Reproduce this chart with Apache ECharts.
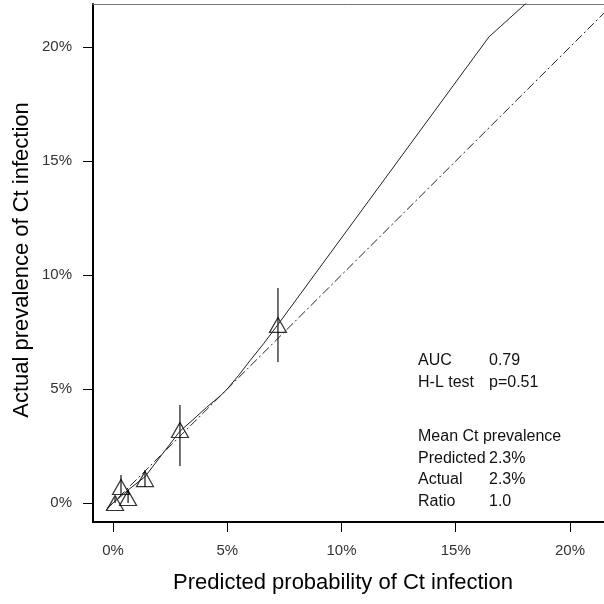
<!DOCTYPE html>
<html>
<head>
<meta charset="utf-8">
<script src="https://cdn.jsdelivr.net/npm/echarts@6/dist/echarts.min.js"></script>
<style>html,body{margin:0;padding:0;background:#fff}#c{width:604px;height:604px}</style>
</head>
<body>
<div id="c"></div>
<script>
// Data (percent units)
var tickValues = [0, 5, 10, 15, 20];
var diagonalX = [-0.3, 22.5];
var diagonalY = [-0.3, 22.5];
var curveX = [-0.25, 0.3, 0.7, 1.4, 2.2, 2.93, 3.5, 4.1, 4.7, 5.0, 5.5, 6.0, 6.6, 7.2, 16.45, 18.5];
var curveY = [-0.2, 0.25, 0.6, 1.15, 2.2, 3.15, 3.65, 4.2, 4.7, 5.0, 5.6, 6.25, 7.0, 7.8, 20.44, 22.3];
var pointX = [0.09, 0.35, 0.66, 1.4, 2.93, 7.22];
var pointY = [0.0, 0.70, 0.22, 1.05, 3.20, 7.81];
var errLow = [0.0, 0.35, 0.0, 0.70, 1.62, 6.18];
var errHigh = [0.25, 1.23, 0.6, 1.45, 4.30, 9.43];
var statLabels = ['AUC', 'H-L test', '', 'Mean Ct prevalence', 'Predicted', 'Actual', 'Ratio'];
var statValues = ['0.79', 'p=0.51', '', '', '2.3%', '2.3%', '1.0'];

var FONT = 'Liberation Sans, Arial, sans-serif';
var chart = echarts.init(document.getElementById('c'), null, {renderer: 'canvas'});

function zip(a, b) { return a.map(function (v, i) { return [v, b[i]]; }); }

var statGraphics = [];
var statY = [361, 383, 405, 437, 459, 480, 502];
statLabels.forEach(function (t, i) {
  if (t) statGraphics.push({type: 'text', x: 418, y: statY[i],
    style: {text: t, font: '16px ' + FONT, fill: '#111', verticalAlign: 'middle'}});
  if (statValues[i]) statGraphics.push({type: 'text', x: 489, y: statY[i],
    style: {text: statValues[i], font: '16px ' + FONT, fill: '#111', verticalAlign: 'middle'}});
});

var axisCommon = function (min, max) {
  return {
    type: 'value', min: min, max: max,
    axisLine: {show: true, onZero: false, lineStyle: {color: '#000', width: 2}},
    axisTick: {show: true, length: 10, lineStyle: {color: '#000', width: 1}, customValues: tickValues},
    axisLabel: {show: true, margin: 21, fontSize: 15, color: '#333', fontFamily: FONT,
      customValues: tickValues, formatter: function (v) { return v + '%'; }},
    splitLine: {show: false}
  };
};

var xMain = axisCommon(-0.875, 21.488);
var yMain = axisCommon(-0.833, 21.886);
var xTop = {type: 'value', min: -0.875, max: 21.488, position: 'top',
  axisLine: {show: true, onZero: false, lineStyle: {color: '#777', width: 1}},
  axisTick: {show: false}, axisLabel: {show: false}, splitLine: {show: false}};

var option = {
  animation: false,
  backgroundColor: '#fff',
  grid: {left: 93, right: 0, top: 4, bottom: 82, show: false},
  xAxis: [xMain, xTop],
  yAxis: [yMain],
  graphic: [
    {type: 'text', x: 343, y: 583,
      style: {text: 'Predicted probability of Ct infection', font: '22px ' + FONT, fill: '#000', align: 'center', verticalAlign: 'middle'}},
    {type: 'text', rotation: Math.PI / 2, x: 22, y: 260,
      style: {text: 'Actual prevalence of Ct infection', font: '22px ' + FONT, fill: '#000', align: 'center', verticalAlign: 'middle'}}
  ].concat(statGraphics),
  series: [
    {type: 'line', data: zip(diagonalX, diagonalY), symbol: 'none', clip: true,
      lineStyle: {color: '#222', width: 1, type: [9, 3, 2, 3]}},
    {type: 'line', data: zip(curveX, curveY), symbol: 'none', clip: true,
      lineStyle: {color: '#222', width: 1}},
    {type: 'custom', data: pointX.map(function (x, i) { return [x, errLow[i], errHigh[i]]; }),
      clip: true,
      renderItem: function (params, api) {
        var a = api.coord([api.value(0), api.value(1)]);
        var b = api.coord([api.value(0), api.value(2)]);
        return {type: 'line', shape: {x1: a[0], y1: a[1], x2: b[0], y2: b[1]},
          style: {stroke: '#111', lineWidth: 1.2}};
      }},
    {type: 'scatter', data: zip(pointX, pointY), symbol: 'triangle', symbolSize: [17, 15],
      itemStyle: {color: 'rgba(0,0,0,0)', borderColor: '#000', borderWidth: 1.2}}
  ]
};
chart.setOption(option);
</script>
</body>
</html>
